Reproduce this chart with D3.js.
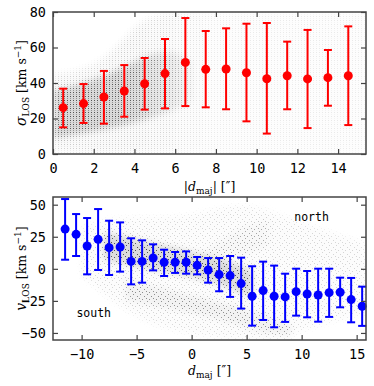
<!DOCTYPE html>
<html>
<head>
<meta charset="utf-8">
<script src="https://cdn.jsdelivr.net/npm/d3@7/dist/d3.min.js"></script>
<style>
  body { margin: 0; background: #fff; }
  .tick text { font-family: "DejaVu Sans Mono", monospace; font-size: 13.5px; fill: #000; }
  .tick line { stroke: #444; stroke-width: 1.2; }
  .domain { display: none; }
  .axisLabel { font-family: "DejaVu Serif", serif; font-size: 12.5px; fill: #000; }
  .note { font-family: "DejaVu Sans Mono", monospace; font-size: 11.5px; fill: #000; }
</style>
</head>
<body>
<div id="chart"></div>
<script>
// top panel: sigma_LOS against |d_maj|
var sigX = [0.5, 1.5, 2.5, 3.5, 4.5, 5.5, 6.5, 7.5, 8.5, 9.5, 10.5, 11.5, 12.5, 13.5, 14.5];
var sigY = [26.1, 28.4, 32.1, 35.5, 39.6, 45.3, 51.6, 47.7, 47.9, 45.8, 42.4, 44.1, 42.3, 43.0, 44.1];
var sigLo = [15.0, 17.5, 17.1, 21.0, 25.0, 25.7, 27.0, 26.3, 25.2, 18.4, 11.5, 25.2, 14.6, 27.2, 16.3];
var sigHi = [36.8, 39.4, 46.8, 50.1, 54.1, 64.8, 76.6, 69.3, 70.8, 73.4, 73.8, 63.3, 69.9, 58.6, 71.9];
var sigTicksX = [0, 2, 4, 6, 8, 10, 12, 14];
var sigTicksY = [0, 20, 40, 60, 80];

// grey point cloud of the top panel, read as envelopes
var sigCloudX  = [0.05, 1, 2, 3, 4, 5, 6, 7, 9, 12, 15.35];
var sigCloudLo = [2, 1, 1, 1, 1, 1, 1, 1, 1, 1, 1];
var sigCloudHi = [45, 46, 50, 58, 72, 79, 80, 80, 80, 80, 80];
var sigCoreX  = [0.05, 1, 2, 3, 4, 5, 6, 6.8];
var sigCoreLo = [9, 11, 13, 15, 18, 21, 25, 30];
var sigCoreHi = [36, 38, 42, 46, 52, 57, 58, 52];

// bottom panel: v_LOS against d_maj
var velX = [-11.5, -10.5, -9.5, -8.5, -7.5, -6.5, -5.5, -4.5, -3.5, -2.5, -1.5, -0.5, 0.5, 1.5,
            2.5, 3.5, 4.5, 5.5, 6.5, 7.5, 8.5, 9.5, 10.5, 11.5, 12.5, 13.5, 14.5, 15.5];
var velY = [31.0, 26.9, 17.8, 23.0, 16.5, 17.0, 5.8, 5.8, 8.4, 5.1, 5.1, 5.1, 2.7, -0.9,
            -4.5, -5.3, -11.5, -21.4, -17.0, -21.4, -21.9, -17.8, -19.6, -20.4, -18.6, -18.3, -24.0, -29.2];
var velLo = [7.1, 10.0, -4.3, -0.9, -4.8, -2.2, -12.1, -10.8, -1.2, -5.6, -3.2, -3.8, -4.3, -10.8,
            -17.5, -21.9, -31.0, -44.3, -39.9, -45.6, -41.4, -36.5, -37.8, -41.2, -37.5, -30.0, -41.7, -44.5];
var velHi = [54.4, 42.7, 39.6, 46.6, 37.5, 36.2, 23.8, 22.2, 19.1, 14.9, 13.1, 13.6, 9.2, 8.4,
            8.4, 10.0, 8.7, 2.0, 5.6, 2.5, -3.8, 0.1, -1.7, 0.1, 0.1, -6.9, -7.1, -13.9];
var velTicksX = [-10, -5, 0, 5, 10, 15];
var velTicksY = [-50, -25, 0, 25, 50];

// grey point cloud of the bottom panel, read as envelopes
var velWideX  = [-10, -8, -6, -4, -2, 0, 2, 4, 6, 8, 10, 12, 15.8];
var velWideLo = [-5, -20, -32, -42, -47, -50, -53, -54, -54, -54, -48, -42, -35];
var velWideHi = [32, 38, 40, 40, 40, 42, 46, 50, 48, 42, 36, 30, 20];
var velBandX  = [-8, -6, -4, -2, 0, 2, 4, 5.5];
var velBandLo = [8, 3, 0, -3, -6, -10, -17, -22];
var velBandHi = [28, 25, 21, 17, 13, 9, 4, -2];
var velLowX  = [-6, -4, -2, 0, 2, 4, 6, 8, 9];
var velLowLo = [-24, -28, -31, -34, -38, -43, -48, -52, -53];
var velLowHi = [-8, -13, -17, -21, -25, -29, -35, -41, -44];
var velUpX  = [1, 3, 5, 7];
var velUpLo = [0, 6, 12, 18];
var velUpHi = [12, 24, 34, 38];

var width = 374, height = 386;
var left = 53, right = 366;

var svg = d3.select("#chart").append("svg")
    .attr("width", width)
    .attr("height", height);

var defs = svg.append("defs");
defs.append("filter").attr("id", "soft")
    .attr("x", "-20%").attr("y", "-20%").attr("width", "140%").attr("height", "140%")
  .append("feGaussianBlur").attr("stdDeviation", 3);

// stipple textures standing in for the scatter of single points
var colPat = defs.append("pattern").attr("id", "cols")
    .attr("patternUnits", "userSpaceOnUse").attr("width", 3).attr("height", 4);
colPat.append("rect").attr("x", 1).attr("y", 0).attr("width", 1).attr("height", 1).attr("fill", "#000");
colPat.append("rect").attr("x", 1).attr("y", 2).attr("width", 1).attr("height", 1).attr("fill", "#000").attr("opacity", 0.5);
var dotPat = defs.append("pattern").attr("id", "dots")
    .attr("patternUnits", "userSpaceOnUse").attr("width", 7).attr("height", 7);
[[0, 0], [4, 2], [2, 5], [6, 4]].forEach(function(p){
  dotPat.append("rect").attr("x", p[0]).attr("y", p[1]).attr("width", 1).attr("height", 1).attr("fill", "#000");
});

var cloudCount = 0;
function zip3(xs, lo, hi){
  return xs.map(function(d, i){ return {x: d, lo: lo[i], hi: hi[i]}; });
}

function drawCloud(g, x, y, xs, lo, hi, shade, stip, pattern, fade){
  var area = d3.area()
      .x(function(d){ return x(d.x); })
      .y0(function(d){ return y(d.lo); })
      .y1(function(d){ return y(d.hi); })
      .curve(d3.curveBasis);
  var id = "cloud" + (cloudCount++);
  var fill = "#fff";
  if(fade){
    var grad = defs.append("linearGradient").attr("id", id + "g")
        .attr("gradientUnits", "userSpaceOnUse")
        .attr("x1", x(fade[0])).attr("x2", x(fade[1])).attr("y1", 0).attr("y2", 0);
    grad.append("stop").attr("offset", 0).attr("stop-color", "#fff");
    grad.append("stop").attr("offset", 1).attr("stop-color", "#fff").attr("stop-opacity", fade[2]);
    fill = "url(#" + id + "g)";
  }
  var mask = defs.append("mask").attr("id", id)
      .attr("maskUnits", "userSpaceOnUse")
      .attr("x", 0).attr("y", 0).attr("width", width).attr("height", height);
  mask.append("path").datum(zip3(xs, lo, hi))
      .attr("d", area).attr("fill", fill).attr("filter", "url(#soft)");
  g.append("rect").attr("x", 0).attr("y", 0).attr("width", width).attr("height", height)
      .attr("fill", "#000").attr("fill-opacity", shade).attr("mask", "url(#" + id + ")");
  g.append("rect").attr("x", 0).attr("y", 0).attr("width", width).attr("height", height)
      .attr("fill", "url(#" + pattern + ")").attr("opacity", stip).attr("mask", "url(#" + id + ")");
}

function drawFrame(g, x, y, top, bottom, tx, ty){
  var t = 5;
  g.append("g").attr("transform", "translate(0," + bottom + ")")
      .call(d3.axisBottom(x).tickValues(tx).tickSize(-t).tickPadding(9).tickFormat(d3.format("d")));
  g.append("g").attr("transform", "translate(0," + top + ")")
      .call(d3.axisTop(x).tickValues(tx).tickSize(-t).tickFormat(""));
  g.append("g").attr("transform", "translate(" + left + ",0)")
      .call(d3.axisLeft(y).tickValues(ty).tickSize(-t).tickPadding(7).tickFormat(d3.format("d")));
  g.append("g").attr("transform", "translate(" + right + ",0)")
      .call(d3.axisRight(y).tickValues(ty).tickSize(-t).tickFormat(""));
  g.append("rect")
      .attr("x", left).attr("y", top)
      .attr("width", right - left).attr("height", bottom - top)
      .attr("fill", "none").attr("stroke", "#444").attr("stroke-width", 1.5);
}

function drawErrors(g, x, y, xs, ys, lo, hi, color, r){
  var cap = 4;
  var pts = g.selectAll(".pt").data(xs).enter().append("g").attr("class", "pt");
  pts.append("line")
      .attr("x1", function(d){ return x(d); }).attr("x2", function(d){ return x(d); })
      .attr("y1", function(d, i){ return y(lo[i]); }).attr("y2", function(d, i){ return y(hi[i]); })
      .attr("stroke", color).attr("stroke-width", 2);
  pts.append("line")
      .attr("x1", function(d){ return x(d) - cap; }).attr("x2", function(d){ return x(d) + cap; })
      .attr("y1", function(d, i){ return y(lo[i]); }).attr("y2", function(d, i){ return y(lo[i]); })
      .attr("stroke", color).attr("stroke-width", 2);
  pts.append("line")
      .attr("x1", function(d){ return x(d) - cap; }).attr("x2", function(d){ return x(d) + cap; })
      .attr("y1", function(d, i){ return y(hi[i]); }).attr("y2", function(d, i){ return y(hi[i]); })
      .attr("stroke", color).attr("stroke-width", 2);
  pts.append("circle")
      .attr("cx", function(d){ return x(d); })
      .attr("cy", function(d, i){ return y(ys[i]); })
      .attr("r", r)
      .attr("fill", color);
}

function unitLabel(g, x, y, sym){
  var t = g.append("text").attr("class", "axisLabel")
      .attr("transform", "translate(" + x + "," + y + ") rotate(-90)")
      .attr("text-anchor", "middle");
  t.append("tspan").style("font-style", "italic").style("font-size", "14px").text(sym);
  t.append("tspan").attr("dy", 3).style("font-size", "9px").text("LOS");
  t.append("tspan").attr("dy", -3).text(" [km s");
  t.append("tspan").attr("dy", -5).style("font-size", "9px").text("−1");
  t.append("tspan").attr("dy", 5).text("]");
}

// ---- top panel ----
var top1 = 12, bot1 = 154;
var x1 = d3.scaleLinear().domain([0, 15.37]).range([left, right]);
var y1 = d3.scaleLinear().domain([0, 80]).range([bot1, top1]);

defs.append("clipPath").attr("id", "clip1").append("rect")
    .attr("x", left).attr("y", top1).attr("width", right - left).attr("height", bot1 - top1);

var g1 = svg.append("g");
var c1 = g1.append("g").attr("clip-path", "url(#clip1)");
drawCloud(c1, x1, y1, sigCloudX, sigCloudLo, sigCloudHi, 0.02, 0.2, "cols", [4, 8, 0.4]);
drawCloud(c1, x1, y1, sigCoreX, sigCoreLo, sigCoreHi, 0.13, 0.5, "cols", [3.5, 6.8, 0.2]);
drawErrors(g1, x1, y1, sigX, sigY, sigLo, sigHi, "#ff0000", 4.5);
drawFrame(g1, x1, y1, top1, bot1, sigTicksX, sigTicksY);
unitLabel(g1, 26, (top1 + bot1) / 2, "σ");

var xl1 = g1.append("text").attr("class", "axisLabel")
    .attr("x", (left + right) / 2).attr("y", 191)
    .attr("text-anchor", "middle");
xl1.append("tspan").text("|");
xl1.append("tspan").style("font-style", "italic").text("d");
xl1.append("tspan").attr("dy", 3).style("font-size", "9px").text("maj");
xl1.append("tspan").attr("dy", -3).text("| [″]");

// ---- bottom panel ----
var top2 = 197, bot2 = 340;
var x2 = d3.scaleLinear().domain([-12.6, 15.85]).range([left, right]);
var y2 = d3.scaleLinear().domain([-55.5, 56]).range([bot2, top2]);

defs.append("clipPath").attr("id", "clip2").append("rect")
    .attr("x", left).attr("y", top2).attr("width", right - left).attr("height", bot2 - top2);

var g2 = svg.append("g");
var c2 = g2.append("g").attr("clip-path", "url(#clip2)");
drawCloud(c2, x2, y2, velWideX, velWideLo, velWideHi, 0.01, 0.15, "dots");
drawCloud(c2, x2, y2, velLowX, velLowLo, velLowHi, 0.04, 0.3, "dots");
drawCloud(c2, x2, y2, velUpX, velUpLo, velUpHi, 0.02, 0.2, "dots");
drawCloud(c2, x2, y2, velBandX, velBandLo, velBandHi, 0.13, 0.55, "dots");
drawErrors(g2, x2, y2, velX, velY, velLo, velHi, "#0000ff", 4.5);
drawFrame(g2, x2, y2, top2, bot2, velTicksX, velTicksY);

g2.append("text").attr("class", "note")
    .attr("x", x2(10.9)).attr("y", y2(37.5))
    .attr("text-anchor", "middle").text("north");
g2.append("text").attr("class", "note")
    .attr("x", x2(-8.9)).attr("y", y2(-37.5))
    .attr("text-anchor", "middle").text("south");
unitLabel(g2, 26, (top2 + bot2) / 2, "v");

var xl2 = g2.append("text").attr("class", "axisLabel")
    .attr("x", (left + right) / 2).attr("y", 375)
    .attr("text-anchor", "middle");
xl2.append("tspan").style("font-style", "italic").text("d");
xl2.append("tspan").attr("dy", 3).style("font-size", "9px").text("maj");
xl2.append("tspan").attr("dy", -3).text(" [″]");
</script>
</body>
</html>
